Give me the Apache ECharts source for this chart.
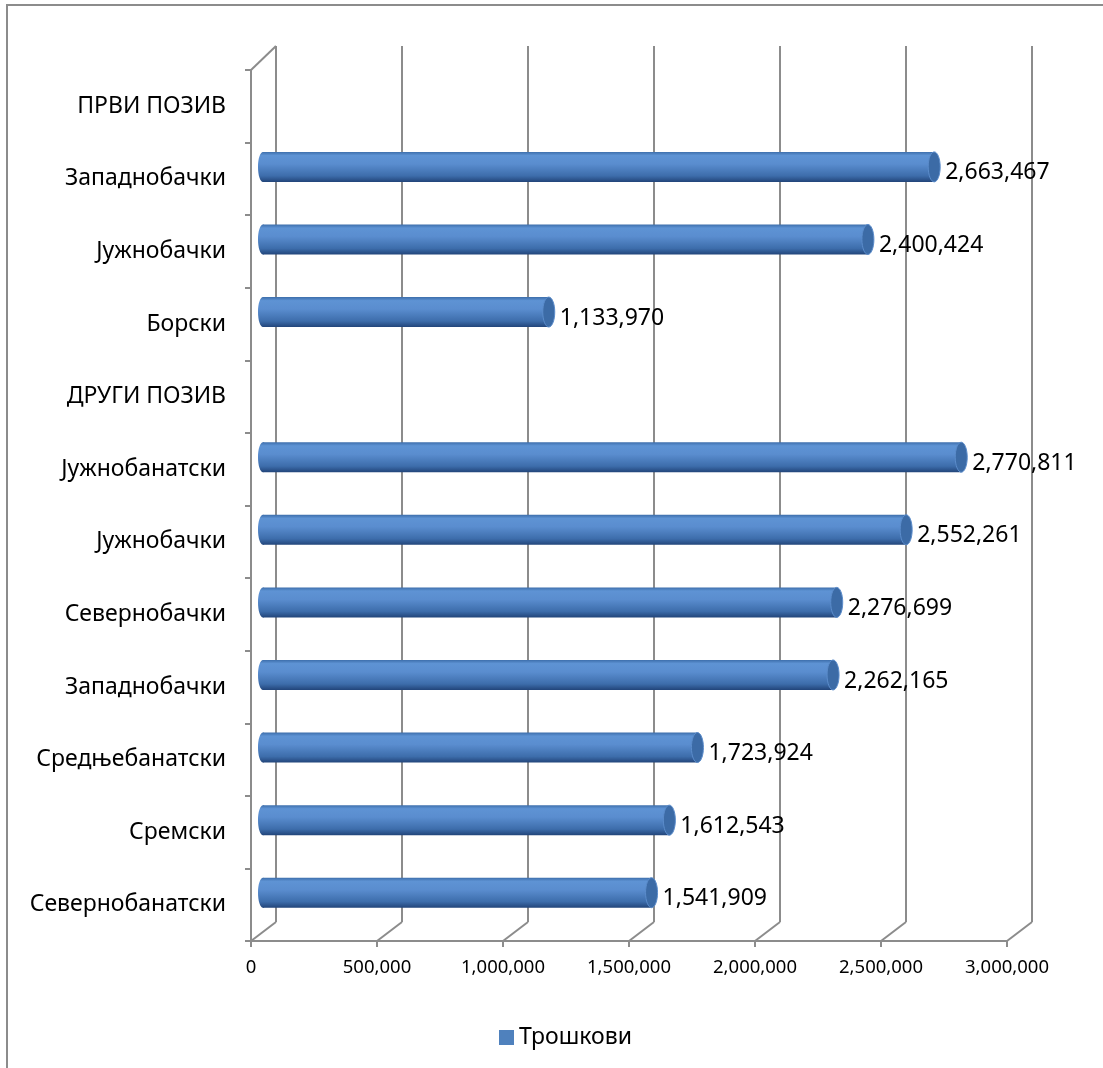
<!DOCTYPE html>
<html>
<head>
<meta charset="utf-8">
<script src="https://cdn.jsdelivr.net/npm/echarts@6/dist/echarts.min.js"></script>
<style>
  html, body { margin: 0; padding: 0; background: #fff; }
  #chart { width: 1103px; height: 1068px; }
</style>
</head>
<body>
<div id="chart"></div>
<script>
// категорије одозго надоле
const categories = [
  'ПРВИ ПОЗИВ', 'Западнобачки', 'Јужнобачки', 'Борски',
  'ДРУГИ ПОЗИВ', 'Јужнобанатски', 'Јужнобачки', 'Севернобачки',
  'Западнобачки', 'Средњебанатски', 'Сремски', 'Севернобанатски'
]
// трошкови (празно за заглавља позива)
const costs = [
  null, 2663467, 2400424, 1133970,
  null, 2770811, 2552261, 2276699,
  2262165, 1723924, 1612543, 1541909
]
const xTicks = [0, 500000, 1000000, 1500000, 2000000, 2500000, 3000000]
const seriesName = 'Трошкови'

const fmt = v => v.toLocaleString('en-US')
const gridColor = '#8c8c8c'
const font = '"Noto Sans", "DejaVu Sans", sans-serif'

const chart = echarts.init(document.getElementById('chart'))

const bodyGrad = new echarts.graphic.LinearGradient(0, 0, 0, 1, [
  { offset: 0, color: '#3d6eab' },
  { offset: 0.12, color: '#5e93d4' },
  { offset: 0.4, color: '#5a8dcf' },
  { offset: 0.8, color: '#3d6dab' },
  { offset: 1, color: '#22457a' }
])

const option = {
  animation: false,
  textStyle: { fontFamily: font },
  grid: [
    { left: 276, width: 756, top: 46, height: 876 }, // задњи зид
    { left: 251, width: 756, top: 70, height: 871 }, // предња оса
    { left: 263, width: 756, top: 58, height: 871 } // ваљци
  ],
  xAxis: [
    {
      gridIndex: 0, type: 'value', min: xTicks[0], max: xTicks[xTicks.length - 1],
      interval: xTicks[1] - xTicks[0],
      axisLine: { show: false }, axisTick: { show: false }, axisLabel: { show: false },
      splitLine: { show: true, lineStyle: { color: gridColor, width: 2 } }
    },
    {
      gridIndex: 1, type: 'value', min: xTicks[0], max: xTicks[xTicks.length - 1],
      interval: xTicks[1] - xTicks[0],
      axisLine: { show: true, lineStyle: { color: gridColor, width: 2 } },
      axisTick: { show: true, length: 6, lineStyle: { color: gridColor, width: 2 } },
      axisLabel: { color: '#000', fontSize: 18.5, margin: 17, formatter: fmt },
      splitLine: { show: false }
    },
    {
      gridIndex: 2, type: 'value', min: xTicks[0], max: xTicks[xTicks.length - 1],
      show: false
    }
  ],
  yAxis: [
    { gridIndex: 0, type: 'category', data: categories, inverse: true, show: false },
    {
      gridIndex: 1, type: 'category', data: categories, inverse: true,
      axisLine: { show: true, lineStyle: { color: gridColor, width: 2 } },
      axisTick: { show: true, length: 6, lineStyle: { color: gridColor, width: 2 } },
      axisLabel: { color: '#000', fontSize: 23, margin: 25, padding: [6, 0, 0, 0] },
      splitLine: { show: false }
    },
    { gridIndex: 2, type: 'category', data: categories, inverse: true, show: false }
  ],
  legend: {
    data: [seriesName],
    left: 494, top: 1021,
    icon: 'rect', itemWidth: 15, itemHeight: 15, itemGap: 6,
    textStyle: { color: '#000', fontSize: 23, fontFamily: font }
  },
  series: [{
    name: seriesName,
    type: 'custom',
    xAxisIndex: 2,
    yAxisIndex: 2,
    itemStyle: { color: '#4f81bd' },
    data: costs.map((v, i) => [v, i]),
    encode: { x: 0, y: 1 },
    renderItem: function (params, api) {
      const v = api.value(0)
      if (v == null || isNaN(v)) return
      const start = api.coord([0, api.value(1)])
      const end = api.coord([v, api.value(1)])
      const h = 30
      const cy = start[1]
      return {
        type: 'group',
        children: [
          {
            type: 'ellipse',
            shape: { cx: start[0], cy: cy, rx: 5, ry: h / 2 },
            style: { fill: bodyGrad }
          },
          {
            type: 'rect',
            shape: { x: start[0], y: cy - h / 2, width: end[0] - start[0], height: h },
            style: { fill: bodyGrad }
          },
          {
            type: 'ellipse',
            shape: { cx: end[0], cy: cy, rx: 6, ry: h / 2 },
            style: { fill: '#3c6ba6', stroke: '#5b8ccb', lineWidth: 1 }
          },
          {
            type: 'text',
            style: {
              x: end[0] + 11, y: cy + 6,
              text: fmt(v),
              fill: '#000',
              font: '23px ' + font,
              verticalAlign: 'middle'
            }
          }
        ]
      }
    }
  }]
}

chart.setOption(option)

// 3Д под: косе линије од задњег зида до предње осе
const backBottom = 922
const frontY = 941
const lines = xTicks.map(t => {
  const xb = chart.convertToPixel({ xAxisIndex: 0 }, t)
  const xf = chart.convertToPixel({ xAxisIndex: 1 }, t)
  return {
    type: 'line', silent: true,
    shape: { x1: xb, y1: backBottom, x2: xf, y2: frontY },
    style: { stroke: gridColor, lineWidth: 2 }
  }
})
const xb0 = chart.convertToPixel({ xAxisIndex: 0 }, 0)
const xf0 = chart.convertToPixel({ xAxisIndex: 1 }, 0)
lines.push({
  type: 'line', silent: true,
  shape: { x1: xb0, y1: 46, x2: xf0, y2: 70 },
  style: { stroke: gridColor, lineWidth: 2 }
})
lines.push({
  type: 'rect', silent: true, z: -1,
  shape: { x: 7, y: 5, width: 1120, height: 1100 },
  style: { fill: null, stroke: gridColor, lineWidth: 2 }
})
chart.setOption({ graphic: lines })

window.addEventListener('resize', function () {
  chart.resize()
})
</script>
</body>
</html>
